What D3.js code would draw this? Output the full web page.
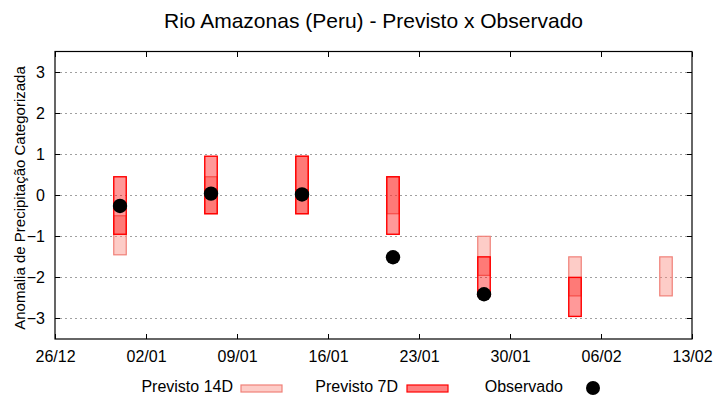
<!DOCTYPE html>
<html>
<head>
<meta charset="utf-8">
<script src="https://cdn.jsdelivr.net/npm/d3@7"></script>
<style>
  html, body { margin: 0; padding: 0; background: #fff; }
  svg { display: block; font-family: "Liberation Sans", Arial, sans-serif; }
</style>
</head>
<body>
<div id="chart"></div>
<script>
// ---- Data ----
const dates = ["31/12/2022", "07/01/2023", "14/01/2023", "21/01/2023", "28/01/2023", "04/02/2023", "11/02/2023"];
const prev14Low  = [-1.45, -0.45, -0.45, -0.45, -1.95, -2.45, -2.45];
const prev14High = [-0.50,  0.45,  0.95,  0.45, -1.00, -1.50, -1.50];
const prev7Low   = [-0.95, -0.45, -0.45, -0.95, -2.45, -2.95, null];
const prev7High  = [ 0.45,  0.95,  0.95,  0.45, -1.50, -2.00, null];
const observed   = [-0.26,  0.04,  0.02, -1.51, -2.41, null, null];
const xTickLabels = ["26/12", "02/01", "09/01", "16/01", "23/01", "30/01", "06/02", "13/02"];
const xTickDates  = ["26/12/2022", "02/01/2023", "09/01/2023", "16/01/2023", "23/01/2023", "30/01/2023", "06/02/2023", "13/02/2023"];
const yTicks = [-3, -2, -1, 0, 1, 2, 3];
const title = "Rio Amazonas (Peru) - Previsto x Observado";
const yLabel = "Anomalia de Precipitação Categorizada";
const legendLabels = ["Previsto 14D", "Previsto 7D", "Observado"];

// ---- Layout ----
const W = 720, H = 400;
const m = { left: 55, right: 28, top: 51.5, bottom: 61 };
const parse = d3.timeParse("%d/%m/%Y");
const DAY = 864e5;

const c14 = { fill: "rgba(250,128,114,0.4)", stroke: "#f08078" };
const c7  = { fill: "rgba(255,0,0,0.40)", stroke: "#ff0000" };

const svg = d3.select("#chart").append("svg").attr("width", W).attr("height", H);

const x = d3.scaleTime()
  .domain([parse(xTickDates[0]), parse(xTickDates[xTickDates.length - 1])])
  .range([m.left, W - m.right]);
const y = d3.scaleLinear().domain([-3.5, 3.5]).range([H - m.bottom, m.top]);

// grid
svg.append("g").selectAll("line").data(yTicks).join("line")
  .attr("x1", m.left).attr("x2", W - m.right)
  .attr("y1", d => y(d)).attr("y2", d => y(d))
  .attr("stroke", "#a0a0a0").attr("stroke-width", 1)
  .attr("stroke-dasharray", "2,3")
  .attr("shape-rendering", "crispEdges");

// axes (inward ticks)
const xt = xTickDates.map(parse);
const fmt = (d) => xTickLabels[xt.findIndex(t => +t === +d)];
svg.append("g").attr("transform", `translate(0,${H - m.bottom})`)
  .call(d3.axisBottom(x).tickValues(xt).tickFormat(fmt).tickSizeInner(-5).tickSizeOuter(0).tickPadding(12))
  .call(g => g.select(".domain").remove())
  .call(g => g.selectAll("text").attr("font-size", 16).attr("fill", "#000").attr("font-family", "Liberation Sans"));
svg.append("g").attr("transform", `translate(0,${m.top})`)
  .call(d3.axisTop(x).tickValues(xt).tickFormat("").tickSizeInner(-5).tickSizeOuter(0))
  .call(g => g.select(".domain").remove());
svg.append("g").attr("transform", `translate(${m.left},0)`)
  .call(d3.axisLeft(y).tickValues(yTicks).tickFormat(d3.format("d")).tickSizeInner(-5).tickSizeOuter(0).tickPadding(10))
  .call(g => g.select(".domain").remove())
  .call(g => g.selectAll("text").attr("font-size", 16).attr("fill", "#000").attr("font-family", "Liberation Sans"));
svg.append("g").attr("transform", `translate(${W - m.right},0)`)
  .call(d3.axisRight(y).tickValues(yTicks).tickFormat("").tickSizeInner(-5).tickSizeOuter(0))
  .call(g => g.select(".domain").remove());

svg.selectAll(".tick line").attr("stroke", "#000").attr("shape-rendering", "crispEdges");

// frame
svg.append("rect")
  .attr("x", m.left).attr("y", m.top)
  .attr("width", W - m.left - m.right).attr("height", H - m.top - m.bottom)
  .attr("fill", "none").attr("stroke", "#000").attr("stroke-width", 1.2);

// bars
const half = 0.48 * DAY;
const rows = dates.map((d, i) => ({
  t: parse(d), l14: prev14Low[i], h14: prev14High[i], l7: prev7Low[i], h7: prev7High[i], obs: observed[i]
}));
svg.append("g").selectAll("rect").data(rows.filter(r => r.l14 != null)).join("rect")
  .attr("x", r => x(new Date(+r.t - half)))
  .attr("width", r => x(new Date(+r.t + half)) - x(new Date(+r.t - half)))
  .attr("y", r => y(r.h14)).attr("height", r => y(r.l14) - y(r.h14))
  .attr("fill", c14.fill).attr("stroke", c14.stroke).attr("stroke-width", 1.2);
svg.append("g").selectAll("rect").data(rows.filter(r => r.l7 != null)).join("rect")
  .attr("x", r => x(new Date(+r.t - half)))
  .attr("width", r => x(new Date(+r.t + half)) - x(new Date(+r.t - half)))
  .attr("y", r => y(r.h7)).attr("height", r => y(r.l7) - y(r.h7))
  .attr("fill", c7.fill).attr("stroke", c7.stroke).attr("stroke-width", 1.4);

// observed
svg.append("g").selectAll("circle").data(rows.filter(r => r.obs != null)).join("circle")
  .attr("cx", r => x(r.t)).attr("cy", r => y(r.obs)).attr("r", 7.2).attr("fill", "#000");

// title
svg.append("text").attr("x", (m.left + W - m.right) / 2).attr("y", 28)
  .attr("text-anchor", "middle").attr("font-size", 21).attr("fill", "#000").text(title);

// y label
svg.append("text").attr("transform", `translate(25,198) rotate(-90)`)
  .attr("text-anchor", "middle").attr("font-size", 15).attr("fill", "#000").text(yLabel);

// legend
const lg = svg.append("g").attr("font-size", 16).attr("fill", "#000");
const legendItems = [
  { tx: 233, sx: 241, type: "rect", c: c14 },
  { tx: 398, sx: 407, type: "rect", c: { fill: "rgba(255,0,0,0.5)", stroke: "#ff0000" } },
  { tx: 563, sx: 593, type: "dot" }
];
legendItems.forEach((it, i) => {
  lg.append("text").attr("x", it.tx).attr("y", 392).attr("text-anchor", "end").text(legendLabels[i]);
  if (it.type === "rect") {
    lg.append("rect").attr("x", it.sx).attr("y", 385).attr("width", 41).attr("height", 7)
      .attr("fill", it.c.fill).attr("stroke", it.c.stroke).attr("stroke-width", 1.2);
  } else {
    lg.append("circle").attr("cx", it.sx).attr("cy", 388).attr("r", 7).attr("fill", "#000");
  }
});
</script>
</body>
</html>
